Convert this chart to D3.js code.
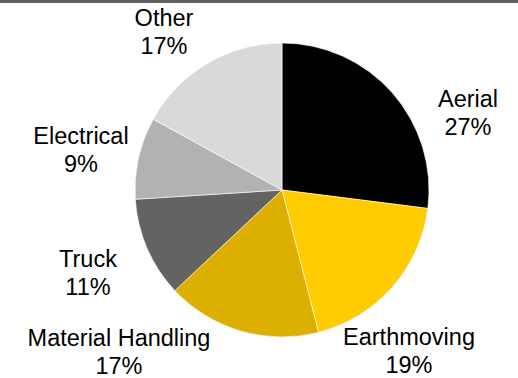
<!DOCTYPE html>
<html>
<head>
<meta charset="utf-8">
<script src="https://cdn.jsdelivr.net/npm/d3@7"></script>
<style>
  html, body { margin: 0; padding: 0; background: #ffffff; }
  svg { display: block; }
  text { font-family: "Liberation Sans", Arial, Helvetica, sans-serif; fill: #000; }
</style>
</head>
<body>
<script>
// Segment revenue share (%)
const categories = ["Aerial", "Earthmoving", "Material Handling", "Truck", "Electrical", "Other"];
const shares = [27, 19, 17, 11, 9, 17];
const labelTexts = ["27%", "19%", "17%", "11%", "9%", "17%"];

const width = 518, height = 378;
const cx = 282, cy = 190, radius = 147;

const colors = d3.scaleOrdinal()
  .domain(categories)
  .range(["#000000", "#ffcc00", "#ddb000", "#636363", "#b2b2b2", "#d9d9d9"]);

// Label block centres, offset from the pie centre (outside-end placement)
const labelOffsets = {
  "Aerial": [186, -77],
  "Earthmoving": [127, 161],
  "Material Handling": [-163, 162],
  "Truck": [-194, 83],
  "Electrical": [-201, -40],
  "Other": [-118, -158]
};

const svg = d3.select("body").append("svg")
  .attr("width", width)
  .attr("height", height);

// Dark rule across the top edge
svg.append("rect")
  .attr("x", 0).attr("y", 0)
  .attr("width", width).attr("height", 3)
  .attr("fill", "#5f5f5f");

const data = categories.map((c, i) => ({ name: c, value: shares[i], label: labelTexts[i] }));

const pie = d3.pie()
  .value(d => d.value)
  .sort(null)
  .startAngle(0)
  .endAngle(2 * Math.PI);

const arc = d3.arc().innerRadius(0).outerRadius(radius);

const g = svg.append("g").attr("transform", `translate(${cx},${cy})`);

g.selectAll("path.slice")
  .data(pie(data))
  .join("path")
  .attr("class", "slice")
  .attr("d", arc)
  .attr("fill", d => colors(d.data.name))
  .attr("stroke", "#ffffff")
  .attr("stroke-width", 0.6);

const fontSize = 23.5;
const lineGap = 27.5;

const labels = g.selectAll("text.lbl")
  .data(pie(data))
  .join("text")
  .attr("class", "lbl")
  .attr("text-anchor", "middle")
  .attr("font-size", fontSize)
  .attr("transform", d => {
    const [dx, dy] = labelOffsets[d.data.name];
    return `translate(${dx},${dy})`;
  });

labels.append("tspan")
  .attr("x", 0)
  .attr("y", -lineGap / 2 + 8)
  .text(d => d.data.name);

labels.append("tspan")
  .attr("x", 0)
  .attr("y", lineGap / 2 + 8)
  .text(d => d.data.label);
</script>
</body>
</html>
